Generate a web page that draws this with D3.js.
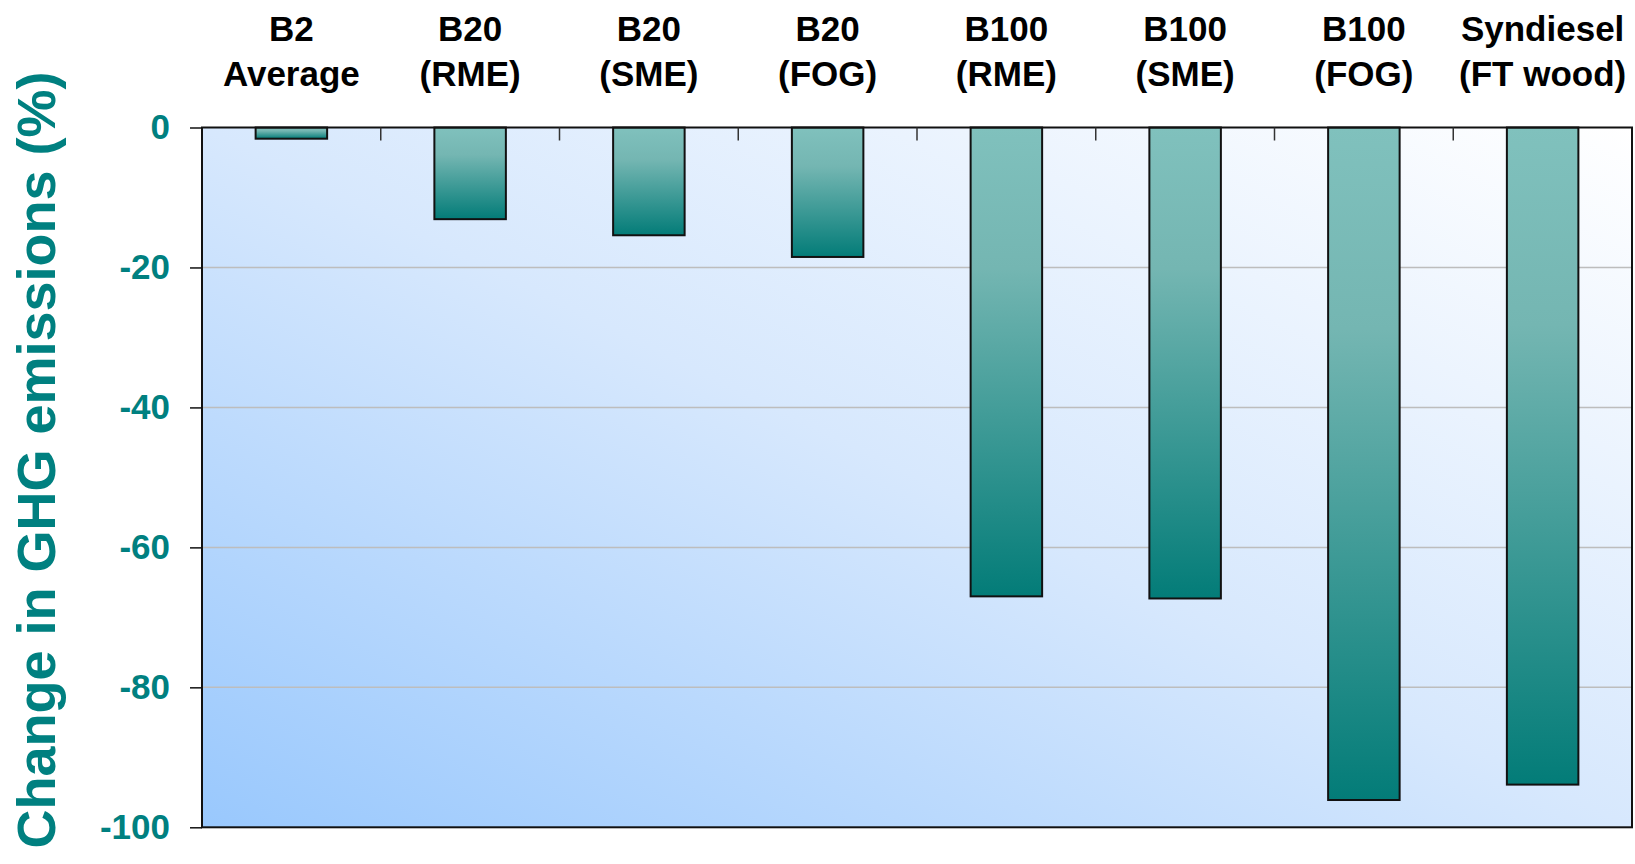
<!DOCTYPE html>
<html>
<head>
<meta charset="utf-8">
<script src="https://cdn.jsdelivr.net/npm/d3@7"></script>
<style>
  html, body { margin: 0; padding: 0; background: #ffffff; }
  svg { display: block; }
  text { font-family: "Liberation Sans", Arial, sans-serif; font-weight: bold; }
</style>
</head>
<body>
<script>
// ---- data ----
const categoryLine1 = ["B2", "B20", "B20", "B20", "B100", "B100", "B100", "Syndiesel"];
const categoryLine2 = ["Average", "(RME)", "(SME)", "(FOG)", "(RME)", "(SME)", "(FOG)", "(FT wood)"];
const ghgChange = [-1.6, -13.1, -15.4, -18.5, -67.0, -67.3, -96.1, -93.9];
const yTicks = [0, -20, -40, -60, -80, -100];
const yTitle = "Change in GHG emissions (%)";

// ---- layout ----
const W = 1635, H = 864;
const plot = { left: 202, top: 127.5, right: 1632, bottom: 827.3 };
const teal = "#008080";

const svg = d3.select("body").append("svg").attr("width", W).attr("height", H);
const defs = svg.append("defs");

const bg = defs.append("linearGradient").attr("id", "bgGrad")
  .attr("x1", 0).attr("y1", 1).attr("x2", 1).attr("y2", 0);
bg.append("stop").attr("offset", "0%").attr("stop-color", "#99c8fd");
bg.append("stop").attr("offset", "50%").attr("stop-color", "#d7e8fd");
bg.append("stop").attr("offset", "100%").attr("stop-color", "#ffffff");

const barG = defs.append("linearGradient").attr("id", "barGrad")
  .attr("x1", 0).attr("y1", 0).attr("x2", 0).attr("y2", 1);
barG.append("stop").attr("offset", "0%").attr("stop-color", "#80c1bd");
barG.append("stop").attr("offset", "30%").attr("stop-color", "#74b6b2");
barG.append("stop").attr("offset", "100%").attr("stop-color", "#037c78");

const keys = d3.range(categoryLine1.length);
const x = d3.scaleBand().domain(keys).range([plot.left, plot.right]).paddingInner(0.6).paddingOuter(0.3);
const xOuter = d3.scaleBand().domain(keys).range([plot.left, plot.right]).padding(0);
const y = d3.scaleLinear().domain([0, -100]).range([plot.top, plot.bottom]);

// background
svg.append("rect")
  .attr("x", plot.left).attr("y", plot.top)
  .attr("width", plot.right - plot.left).attr("height", plot.bottom - plot.top)
  .attr("fill", "url(#bgGrad)");

// gridlines
svg.append("g").selectAll("line").data(yTicks.filter(d => d !== 0 && d !== -100)).join("line")
  .attr("x1", plot.left).attr("x2", plot.right)
  .attr("y1", d => y(d)).attr("y2", d => y(d))
  .attr("stroke", "#bdbdbd").attr("stroke-width", 1.5);

// bars
svg.append("g").selectAll("rect").data(keys).join("rect")
  .attr("x", i => x(i))
  .attr("y", y(0))
  .attr("width", x.bandwidth())
  .attr("height", i => y(ghgChange[i]) - y(0))
  .attr("fill", "url(#barGrad)")
  .attr("stroke", "#111").attr("stroke-width", 2);

// frame
svg.append("rect")
  .attr("x", plot.left).attr("y", plot.top)
  .attr("width", plot.right - plot.left).attr("height", plot.bottom - plot.top)
  .attr("fill", "none").attr("stroke", "#111").attr("stroke-width", 2);

// top axis ticks at category boundaries
svg.append("g").selectAll("line").data(keys.slice(1)).join("line")
  .attr("x1", i => xOuter(i)).attr("x2", i => xOuter(i))
  .attr("y1", plot.top).attr("y2", plot.top + 13)
  .attr("stroke", "#333").attr("stroke-width", 1.5);

// left axis
const yAxis = d3.axisLeft(y).tickValues(yTicks).tickSize(12).tickPadding(20).tickFormat(d => String(d));
const ya = svg.append("g").attr("transform", `translate(${plot.left},0)`).call(yAxis);
ya.select(".domain").remove();
ya.selectAll(".tick line").attr("stroke", "#111").attr("stroke-width", 1.5);
ya.selectAll(".tick text")
  .attr("fill", teal).attr("font-size", 35).attr("font-weight", "bold")
  .attr("font-family", "'Liberation Sans', Arial, sans-serif");

// category labels
const lab = svg.append("g").selectAll("text").data(keys).join("text")
  .attr("text-anchor", "middle").attr("font-size", 35).attr("fill", "#000");
lab.append("tspan").attr("x", i => xOuter(i) + xOuter.bandwidth() / 2).attr("y", 41).text(i => categoryLine1[i]);
lab.append("tspan").attr("x", i => xOuter(i) + xOuter.bandwidth() / 2).attr("y", 86).text(i => categoryLine2[i]);

// y title
svg.append("text")
  .attr("transform", `translate(55,${460}) rotate(-90)`)
  .attr("text-anchor", "middle").attr("font-size", 54).attr("fill", teal)
  .text(yTitle);
</script>
</body>
</html>
